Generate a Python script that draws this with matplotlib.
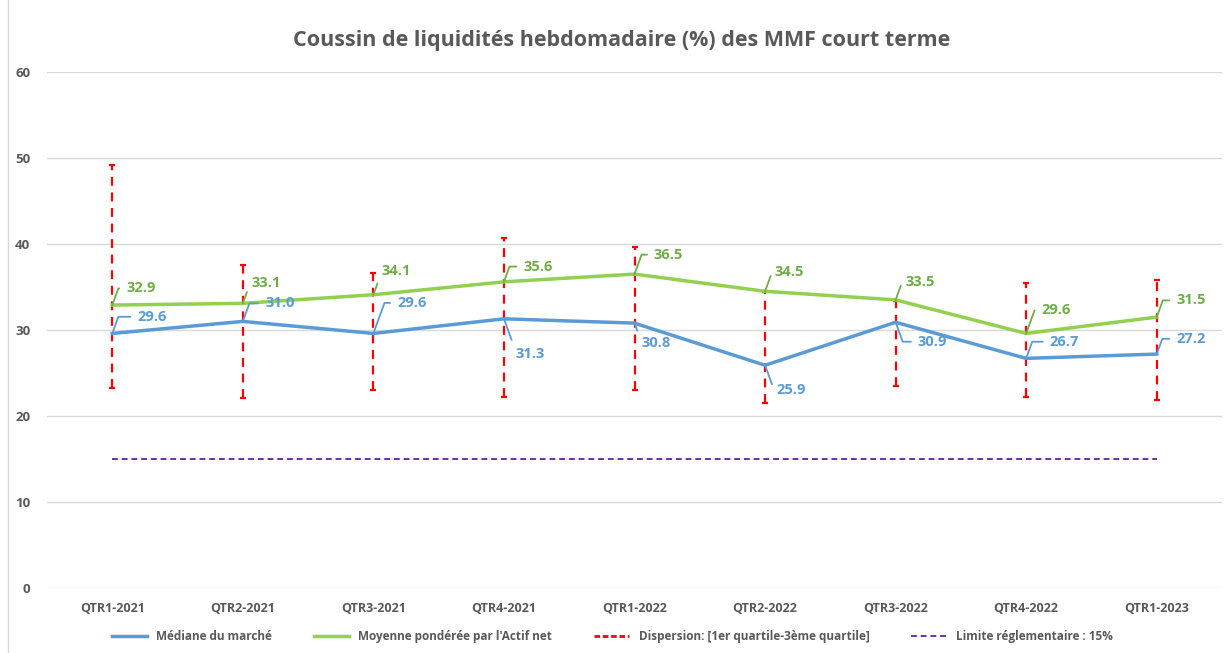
import numpy as np
import matplotlib.pyplot as plt
from matplotlib.patches import Rectangle

plt.rcParams['font.family'] = ['Open Sans', 'DejaVu Sans']

quarters = ['QTR1-2021', 'QTR2-2021', 'QTR3-2021', 'QTR4-2021', 'QTR1-2022',
            'QTR2-2022', 'QTR3-2022', 'QTR4-2022', 'QTR1-2023']
mediane = [29.6, 31.0, 29.6, 31.3, 30.8, 25.9, 30.9, 26.7, 27.2]
moyenne = [32.9, 33.1, 34.1, 35.6, 36.5, 34.5, 33.5, 29.6, 31.5]
q1 = [23.3, 22.1, 23.0, 22.2, 23.0, 21.5, 23.5, 22.2, 21.9]
q3 = [49.2, 37.6, 36.6, 40.7, 39.7, 34.4, 33.4, 35.5, 35.8]
limite = 15

# label offsets in points (dx, dy) relative to the data point
off_moy = [(10, 12), (6, 15), (6, 17), (14, 11), (14, 14), (7, 14), (7, 13), (11, 17), (14, 12)]
off_med = [(18, 12), (16, 13), (17, 22), (8, -25), (5, -14), (8, -18), (16, -14), (17, 12), (14, 11)]

BLUE = '#5B9BD5'
GREEN = '#92D050'
GREEN_TXT = '#70AD47'
GRAY = '#595959'

fig = plt.figure(figsize=(12.24, 6.53), dpi=100)
ax = fig.add_axes([47 / 1224, 65 / 653, 1175 / 1224, 516 / 653])
fig.patches.append(Rectangle((8 / 1224, -0.01), 1.1, 1.1, transform=fig.transFigure,
                             fill=False, edgecolor='#D9D9D9', linewidth=1))

x = np.arange(len(quarters))

ax.plot(x, mediane, color=BLUE, linewidth=2.5, label='Médiane du marché', zorder=4)
ax.plot(x, moyenne, color=GREEN, linewidth=2.5, label="Moyenne pondérée par l'Actif net", zorder=4)

centre = (np.array(q1) + np.array(q3)) / 2
err = [centre - np.array(q1), np.array(q3) - centre]
eb = ax.errorbar(x, centre, yerr=err, fmt='none', ecolor='red', elinewidth=1.6,
                 capsize=2.5, capthick=1.6, zorder=3)
eb[2][0].set_linestyle((0, (4, 3)))
ax.plot([], [], color='red', linestyle=(0, (2, 1)), linewidth=2,
        label='Dispersion: [1er quartile-3ème quartile]')

ax.plot(x, [limite] * len(x), color='#7030A0', linestyle=(0, (3, 2)), linewidth=1.4,
        label='Limite réglementaire : 15%')

def label(vals, offs, color):
    for xi, v, (dx, dy) in zip(x, vals, offs):
        angB = 70 if dy > 0 else 110
        ax.annotate(f'{v:.1f}', xy=(xi, v), xytext=(dx, dy), textcoords='offset points',
                    ha='left', va='center', fontsize=10.5, fontweight='bold', color=color,
                    arrowprops=dict(arrowstyle='-', color=color, linewidth=1.3,
                                    shrinkA=3, shrinkB=0, relpos=(0, 0.5),
                                    connectionstyle=f'angle,angleA=0,angleB={angB},rad=0'),
                    zorder=5)

label(moyenne, off_moy, GREEN_TXT)
label(mediane, off_med, BLUE)

ax.set_xlim(-0.5, len(x) - 0.5)
ax.set_ylim(0, 60)
ax.set_yticks(range(0, 61, 10))
ax.set_xticks(x)
ax.set_xticklabels(quarters)
ax.grid(axis='y', color='#D9D9D9', linewidth=1)
ax.set_axisbelow(True)
for s in ax.spines.values():
    s.set_visible(False)
ax.tick_params(length=0, colors=GRAY, labelsize=9)
ax.tick_params(axis='y', pad=12, labelsize=9.5)
ax.tick_params(axis='x', pad=10)
for t in ax.get_xticklabels() + ax.get_yticklabels():
    t.set_fontweight('bold')

fig.text(0.508, 0.938, 'Coussin de liquidités hebdomadaire (%) des MMF court terme',
         ha='center', va='center', fontsize=15.5, fontweight='bold', color=GRAY)

leg = fig.legend(loc='center', bbox_to_anchor=(0.5, 0.025), ncol=4, frameon=False,
                 fontsize=8.5, handlelength=3, columnspacing=3.5)
for t in leg.get_texts():
    t.set_color(GRAY)
    t.set_fontweight('bold')

fig.savefig('out.png', dpi=100)
